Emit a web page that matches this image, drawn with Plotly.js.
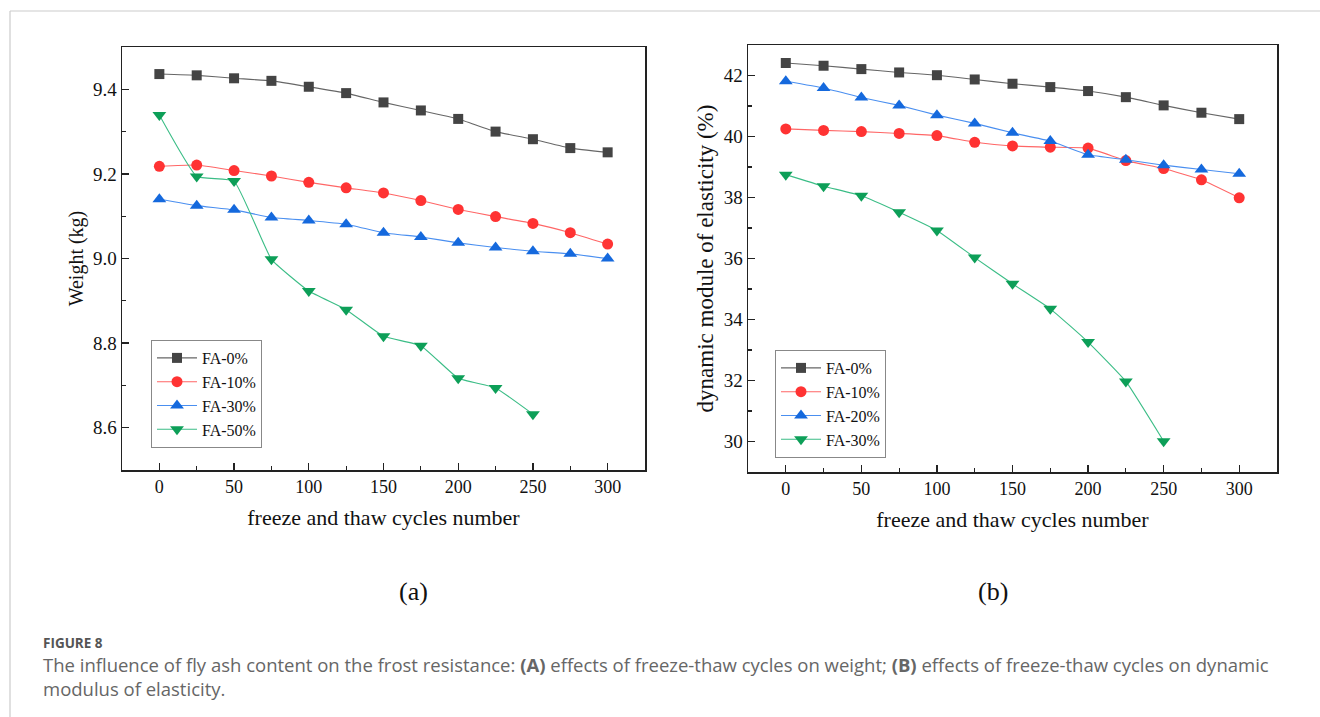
<!DOCTYPE html>
<html>
<head>
<meta charset="utf-8">
<script src="https://cdn.plot.ly/plotly-3.0.1.min.js"></script>
<style>
html,body{margin:0;padding:0;background:#fff;}
#chart{width:1320px;height:717px;}
</style>
</head>
<body>
<div id="chart"></div>
<script>
// Freeze-thaw cycles (x values)
const cycles = [0, 25, 50, 75, 100, 125, 150, 175, 200, 225, 250, 275, 300];
const cyclesShort = [0, 25, 50, 75, 100, 125, 150, 175, 200, 225, 250];

// (a) Weight (kg)
const weightFA0  = [9.436, 9.433, 9.426, 9.420, 9.406, 9.391, 9.369, 9.350, 9.330, 9.300, 9.282, 9.261, 9.251];
const weightFA10 = [9.218, 9.221, 9.208, 9.195, 9.180, 9.167, 9.155, 9.137, 9.116, 9.099, 9.083, 9.061, 9.034];
const weightFA30 = [9.140, 9.125, 9.115, 9.097, 9.090, 9.081, 9.061, 9.051, 9.037, 9.026, 9.017, 9.011, 9.000];
const weightFA50 = [9.339, 9.194, 9.183, 8.998, 8.923, 8.879, 8.816, 8.794, 8.717, 8.694, 8.632];

// (b) Dynamic module of elasticity (%)
const modFA0  = [42.41, 42.32, 42.21, 42.10, 42.01, 41.87, 41.73, 41.62, 41.49, 41.29, 41.02, 40.78, 40.57];
const modFA10 = [40.25, 40.20, 40.16, 40.10, 40.03, 39.81, 39.69, 39.65, 39.62, 39.21, 38.95, 38.58, 37.99];
const modFA20 = [41.81, 41.59, 41.28, 41.02, 40.70, 40.43, 40.12, 39.85, 39.40, 39.24, 39.06, 38.92, 38.78];
const modFA30 = [38.75, 38.37, 38.06, 37.52, 36.92, 36.03, 35.17, 34.35, 33.26, 31.97, 30.01];

const namesA = ["FA-0%", "FA-10%", "FA-30%", "FA-50%"];
const namesB = ["FA-0%", "FA-10%", "FA-20%", "FA-30%"];

const markerColors = ["#444444", "#ff3333", "#1569dd", "#0d9f58"];
const lineColors   = ["#666666", "#ff6666", "#4a8ff0", "#3bbd86"];
const symbols = ["square", "circle", "triangle-up", "triangle-down"];
const sizes = [10, 11, 12, 12];

function mk(x, y, i, name, xa, ya, leg) {
  return {
    x: x, y: y, name: name, type: "scatter", mode: "lines+markers",
    xaxis: xa, yaxis: ya, legend: leg,
    line: {color: lineColors[i], width: 1.1, shape: "spline", smoothing: 0.35},
    marker: {symbol: symbols[i], color: markerColors[i], size: sizes[i], line: {width: 0}}
  };
}

const dataA = [weightFA0, weightFA10, weightFA30, weightFA50];
const dataB = [modFA0, modFA10, modFA20, modFA30];
const traces = [];
dataA.forEach((d, i) => traces.push(mk(i === 3 ? cyclesShort : cycles, d, i, namesA[i], "x", "y", "legend")));
dataB.forEach((d, i) => traces.push(mk(i === 3 ? cyclesShort : cycles, d, i, namesB[i], "x2", "y2", "legend2")));

const serif = "Liberation Serif, Times New Roman, serif";
const W = 1320, H = 717;
const px = v => v / W, py = v => 1 - v / H;

function xaxisDef(domain) {
  return {
    domain: domain, range: [-25, 325], tickmode: "linear", tick0: 0, dtick: 50,
    showline: true, linecolor: "#222", linewidth: 1.5, mirror: true,
    ticks: "inside", ticklen: 7, tickwidth: 1.3, tickcolor: "#222",
    minor: {ticks: "inside", ticklen: 4, tickwidth: 1.1, tickcolor: "#222", dtick: 25, tick0: 0, showgrid: false},
    showgrid: false, zeroline: false,
    tickfont: {family: serif, size: 18, color: "#111"},
    title: {text: "freeze and thaw cycles number", font: {family: serif, size: 22, color: "#111"}, standoff: 13}
  };
}

const layout = {
  width: W, height: H,
  margin: {l: 0, r: 0, t: 0, b: 0},
  paper_bgcolor: "#fff", plot_bgcolor: "#fff",
  showlegend: true,
  xaxis: Object.assign(xaxisDef([px(122), px(645)]), {anchor: "y"}),
  yaxis: {
    anchor: "x", domain: [py(470), py(47)], range: [8.5, 9.5], tickmode: "linear", tick0: 0, dtick: 0.2,
    tickformat: ".1f",
    showline: true, linecolor: "#222", linewidth: 1.5, mirror: true,
    ticks: "inside", ticklen: 7, tickwidth: 1.3, tickcolor: "#222",
    minor: {ticks: "inside", ticklen: 4, tickwidth: 1.1, tickcolor: "#222", dtick: 0.1, showgrid: false},
    showgrid: false, zeroline: false,
    tickfont: {family: serif, size: 19, color: "#111"},
    title: {text: "Weight (kg)", font: {family: serif, size: 20, color: "#111"}, standoff: 4}
  },
  xaxis2: Object.assign(xaxisDef([px(748), px(1277)]), {anchor: "y2"}),
  yaxis2: {
    anchor: "x2", domain: [py(472), py(45)], range: [29, 43], tickmode: "linear", tick0: 0, dtick: 2,
    showline: true, linecolor: "#222", linewidth: 1.5, mirror: true,
    ticks: "inside", ticklen: 7, tickwidth: 1.3, tickcolor: "#222",
    minor: {ticks: "inside", ticklen: 4, tickwidth: 1.1, tickcolor: "#222", dtick: 1, showgrid: false},
    showgrid: false, zeroline: false,
    tickfont: {family: serif, size: 19, color: "#111"},
    title: {text: "dynamic module of elasticity (%)", font: {family: serif, size: 23, color: "#111"}, standoff: 3}
  },
  legend: {
    x: px(151), y: py(340), xanchor: "left", yanchor: "top",
    bgcolor: "#fff", bordercolor: "#888", borderwidth: 1,
    font: {family: serif, size: 16, color: "#111"}, itemwidth: 40, tracegroupgap: 0
  },
  legend2: {
    x: px(775), y: py(350), xanchor: "left", yanchor: "top",
    bgcolor: "#fff", bordercolor: "#888", borderwidth: 1,
    font: {family: serif, size: 16, color: "#111"}, itemwidth: 40, tracegroupgap: 0
  },
  shapes: [
    {type: "line", xref: "paper", yref: "paper", x0: px(10), x1: 1.01, y0: py(11), y1: py(11), line: {color: "#cccccc", width: 1.2}},
    {type: "line", xref: "paper", yref: "paper", x0: px(10), x1: px(10), y0: py(11), y1: -0.01, line: {color: "#cccccc", width: 1.2}}
  ],
  annotations: [
    {text: "(a)", xref: "paper", yref: "paper", x: px(413), y: py(591), xanchor: "center", yanchor: "middle", showarrow: false, font: {family: serif, size: 26, color: "#111"}},
    {text: "(b)", xref: "paper", yref: "paper", x: px(993), y: py(591), xanchor: "center", yanchor: "middle", showarrow: false, font: {family: serif, size: 26, color: "#111"}},
    {text: "<b>FIGURE 8</b>", xref: "paper", yref: "paper", x: px(41), y: py(643), xanchor: "left", yanchor: "middle", showarrow: false, font: {family: "Open Sans, sans-serif", size: 13.5, color: "#555"}},
    {text: "The influence of fly ash content on the frost resistance: <b>(A)</b> effects of freeze-thaw cycles on weight; <b>(B)</b> effects of freeze-thaw cycles on dynamic", xref: "paper", yref: "paper", x: px(41), y: py(664), xanchor: "left", yanchor: "middle", showarrow: false, font: {family: "Open Sans, sans-serif", size: 18.5, color: "#666"}},
    {text: "modulus of elasticity.", xref: "paper", yref: "paper", x: px(41), y: py(688), xanchor: "left", yanchor: "middle", showarrow: false, font: {family: "Open Sans, sans-serif", size: 18.5, color: "#666"}}
  ]
};

Plotly.newPlot("chart", traces, layout, {displayModeBar: false, staticPlot: true});
</script>
</body>
</html>
